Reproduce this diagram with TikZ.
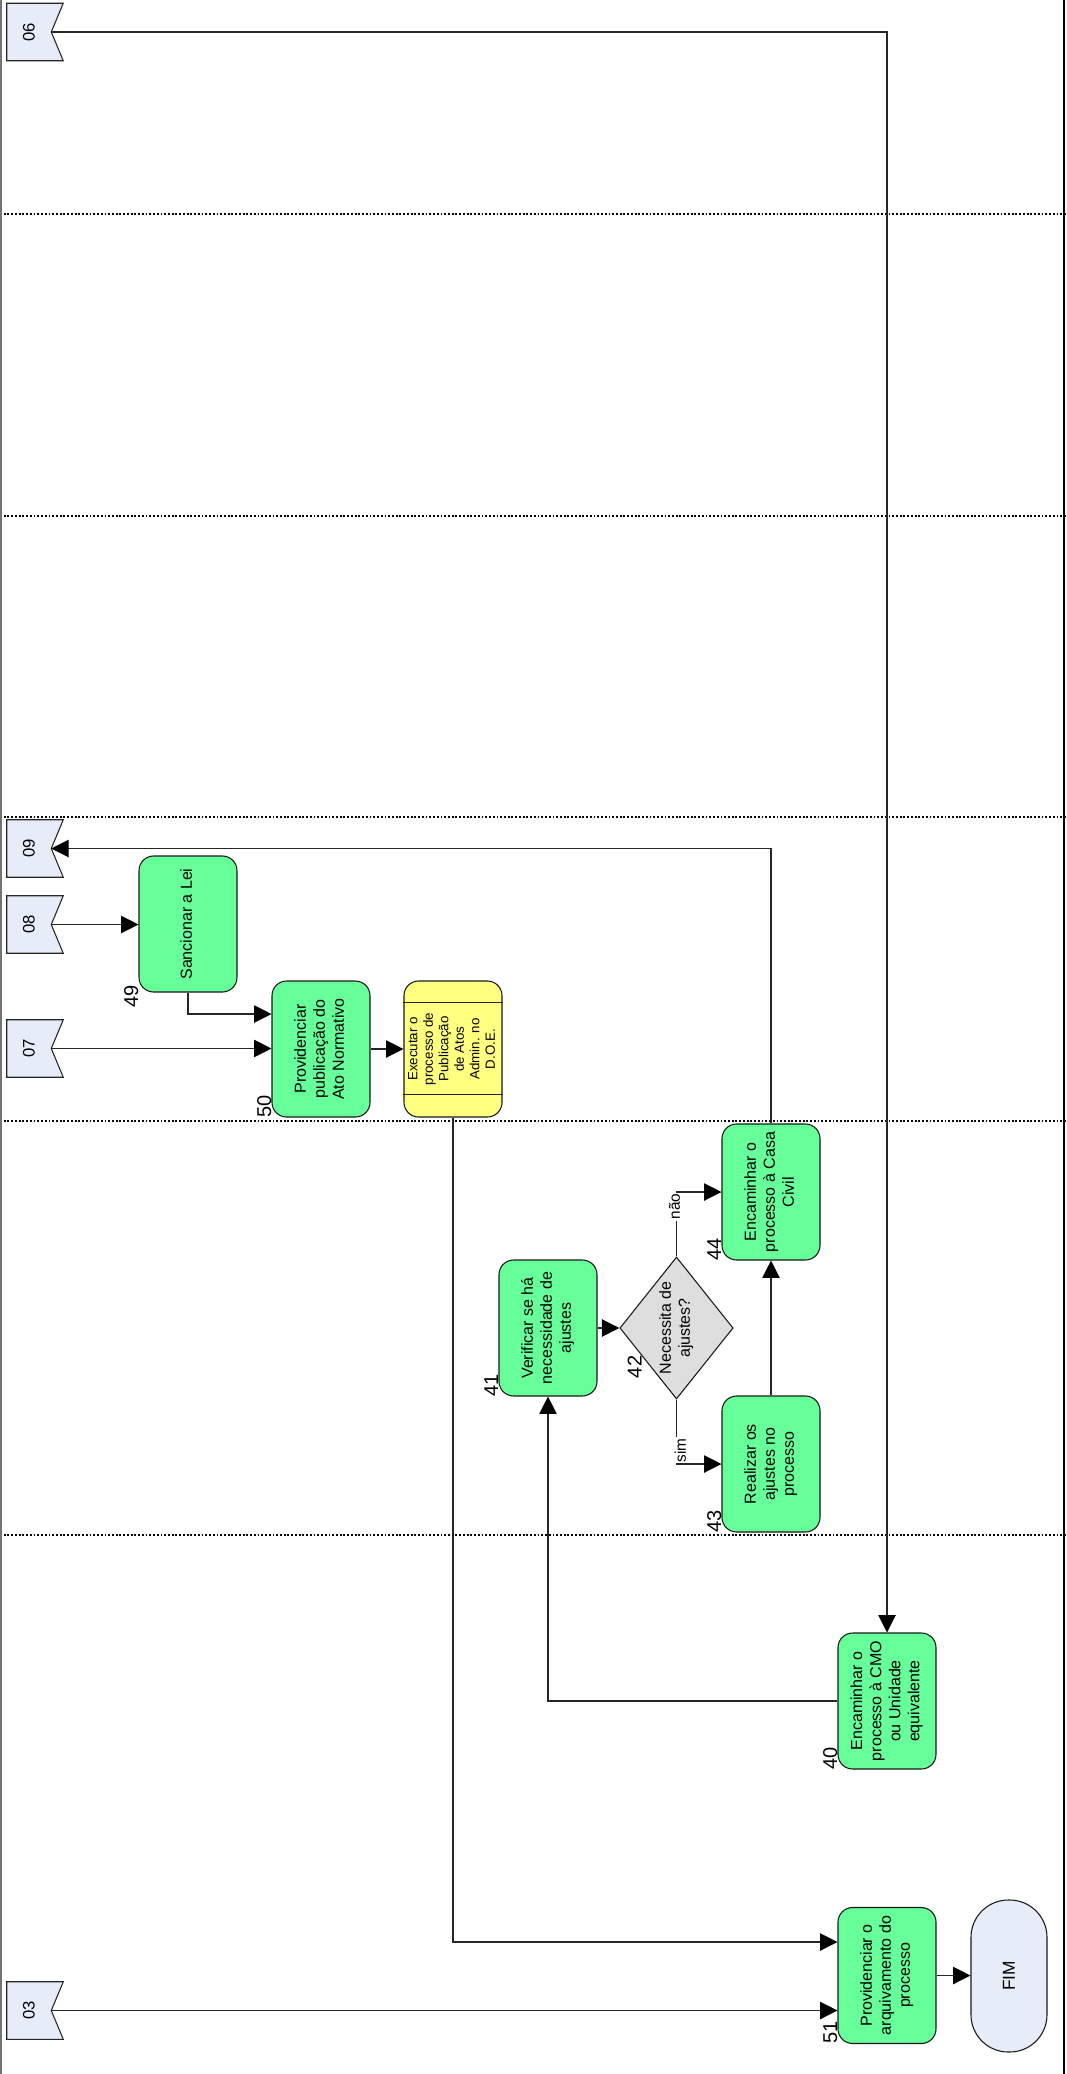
\documentclass[tikz,border=0pt]{standalone}
\usepackage{fontspec}
\setmainfont{Liberation Sans}
\usepackage{graphicx}
\usetikzlibrary{positioning}
\usetikzlibrary{calc}
\usetikzlibrary{arrows.meta}
\usetikzlibrary{shapes.geometric}
\definecolor{actgreen}{HTML}{66FF99}
\definecolor{subyellow}{HTML}{FFFF80}
\definecolor{decgray}{HTML}{DEDEDE}
\definecolor{connblue}{HTML}{E6ECF8}
\newcommand{\vtext}[1]{\rotatebox{90}{\begin{tabular}{@{}c@{}}#1\end{tabular}}}

\begin{document}
\begin{tikzpicture}[x=0.75pt,y=-0.75pt,
    act/.style={draw=black!90, fill=actgreen, line width=0.8pt, rounded corners=11pt,
      minimum width=73.5pt, minimum height=102pt, inner sep=0pt,
      font=\fontsize{12}{14.3}\selectfont},
    sub/.style={act, fill=subyellow, font=\fontsize{10}{11.6}\selectfont},
    dec/.style={diamond, draw=black!90, fill=decgray, line width=0.8pt, aspect=0.8,
      minimum width=85pt, minimum height=106.5pt, inner sep=0pt,
      font=\fontsize{12}{14.3}\selectfont},
    fim/.style={draw=black!90, fill=connblue, line width=0.8pt, rounded corners=28pt,
      minimum width=57pt, minimum height=114pt, inner sep=0pt,
      font=\fontsize{13}{13}\selectfont},
    banner/.style={minimum width=42pt, minimum height=42.75pt, inner sep=0pt},
    bannerline/.style={draw=black!85, fill=connblue, line width=0.8pt},
    cnum/.style={rotate=90, inner sep=0pt, font=\fontsize{12.5}{12.5}\selectfont},
    num/.style={rotate=90, inner sep=0pt, anchor=south west, font=\fontsize{15}{15}\selectfont},
    yn/.style={rotate=90, fill=white, inner sep=1pt, font=\fontsize{11.5}{11.5}\selectfont},
    flow/.style={draw=black!85, line width=0.8pt,
      -{Triangle[length=13pt,width=13pt,color=black,fill=black]}},
    link/.style={draw=black!85, line width=0.8pt},
    lane/.style={line width=1.5pt, dash pattern=on 1.4pt off 1.4pt},
    frame/.style={line width=1.5pt}
  ]
    \useasboundingbox (0,0) rectangle (1067,2074);

    \foreach \y in {214,516,817,1121,1535} {
      \draw[lane] (0,\y) -- (1067,\y);
    }
    \draw[frame, black!55] (1,0) -- (1,2074);
    \draw[frame] (1064,0) -- (1064,2074);

    \foreach \n/\y in {06/32,09/848.5,08/924.5,07/1048.5,03/2010.5} {
      \node[banner] (c\n) at (35,\y) {};
      \draw[bannerline] (c\n.north west) -- (c\n.north east) -- ([xshift=-9pt]c\n.east)
        -- (c\n.south east) -- (c\n.south west) -- cycle;
      \coordinate (p\n) at ([xshift=-9pt]c\n.east);
      \node[cnum] (t\n) at ($(c\n)+(-6,0)$) {\n};
    }

    \node[act] (s49) at (188,924) {\vtext{Sancionar a Lei}};
    \node[act] (s50) at (321,1049) {\vtext{Providenciar\\publicação do\\Ato Normativo}};
    \node[sub] (pub) at (453,1049) {\vtext{Executar o\\processo de\\Publicação\\de Atos\\Admin. no\\D.O.E.}};
    \foreach \a/\b/\d in {north west/north east/22, south west/south east/-23} {
      \draw[link] ($(pub.\a)+(0,\d)$) -- ($(pub.\b)+(0,\d)$);
    }
    \node[act] (s41) at (548,1328) {\vtext{Verificar se há\\necessidade de\\ajustes}};
    \node[dec] (d42) at (676.5,1328) {\vtext{Necessita de\\ajustes?}};
    \node[act] (s44) at (771,1192) {\vtext{Encaminhar o\\processo à Casa\\Civil}};
    \node[act] (s43) at (771,1464) {\vtext{Realizar os\\ajustes no\\processo}};
    \node[act] (s40) at (887,1701) {\vtext{Encaminhar o\\processo à CMO\\ou Unidade\\equivalente}};
    \node[act] (s51) at (887,1975.5) {\vtext{Providenciar o\\arquivamento do\\processo}};
    \node[fim] (fim) at (1009,1976) {\rotatebox{90}{FIM}};

    \node[num] (n49) at ([yshift=-11.25pt]s49.south west) {49};
    \node[num] (n50) at (s50.south west) {50};
    \node[num] (n41) at (s41.south west) {41};
    \node[num] (n42) at ($(d42.south west)+(-6,14.5)$) {42};
    \node[num] (n44) at (s44.south west) {44};
    \node[num] (n43) at (s43.south west) {43};
    \node[num] (n40) at (s40.south west) {40};
    \node[num] (n51) at (s51.south west) {51};

    \draw[flow] (p06) -| (s40.north);
    \draw[flow] (s44.north) |- (p09);
    \draw[flow] (p08) -- (p08 -| s49.west);
    \draw[flow] (s49.south) |- ($(s50.west)+(0,-35)$);
    \draw[flow] (p07) -- (p07 -| s50.west);
    \draw[flow] (s50.east) -- (pub.west);
    \draw[flow] (pub.south) |- ($(s51.west)+(0,-33.5)$);
    \draw[flow] (p03) -- (p03 -| s51.west);
    \draw[flow] (s51.east) -- (s51.east -| fim.west);
    \draw[flow] (s40.west) -| (s41.south);
    \draw[flow] (s41.east) -- (d42.west);
    \draw[flow] (d42.north) |- node[yn, anchor=east, yshift=1.5pt] (lnao) {não} (s44.west);
    \draw[flow] (d42.south) |- node[yn, anchor=west, yshift=-3pt] (lsim) {sim} (s43.west);
    \draw[flow] (s43.north) -- (s44.south);
  \end{tikzpicture}
\end{document}
